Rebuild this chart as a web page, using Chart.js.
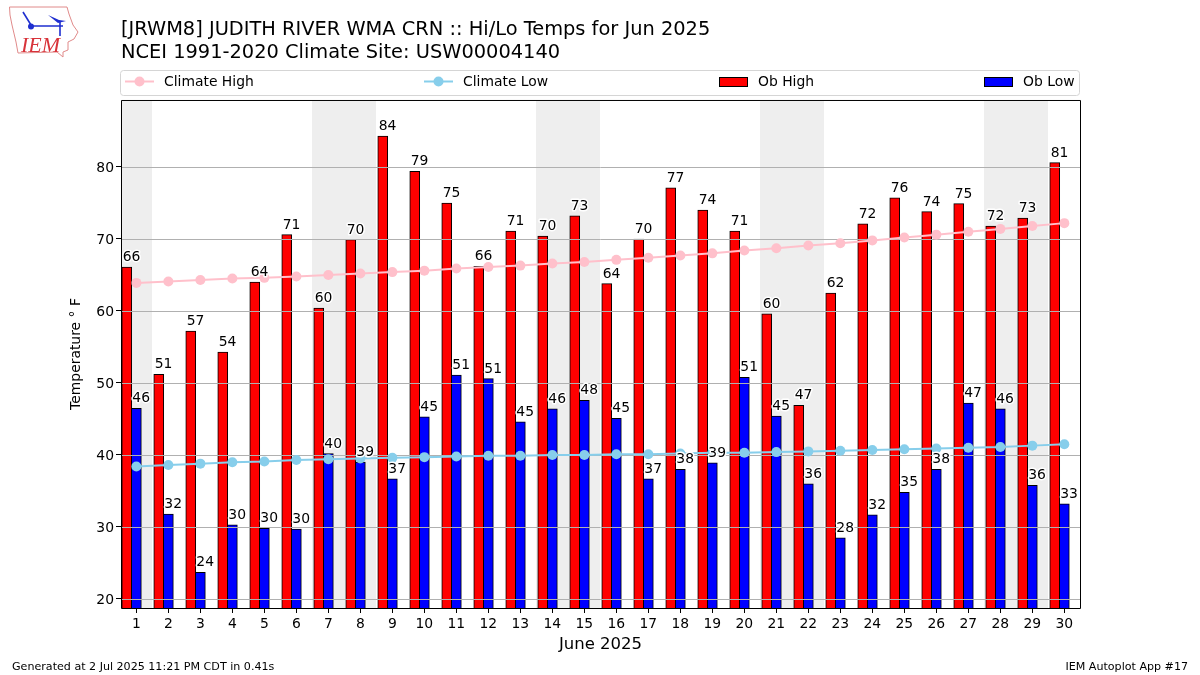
<!DOCTYPE html>
<html>
<head>
<meta charset="utf-8">
<title>Hi/Lo Temps</title>
<script src="https://cdn.jsdelivr.net/npm/chart.js@4"></script>
<style>
html, body { margin: 0; padding: 0; background: #fff; }
#wrap { position: relative; width: 1200px; height: 675px; overflow: hidden; }
#logo { position: absolute; left: 0; top: 0; }
canvas { display: block; }
</style>
</head>
<body>
<div id="wrap">
<canvas id="tempChart" width="1200" height="675"></canvas>
<svg id="logo" width="90" height="62" viewBox="0 0 90 62">
  <path d="M9.5 7 L67 7 L69 14 L73 25 L78 32 L74 39 L68 42 L68 50 L63 52 L63 57 L57 52 L18 53 L16 42 L12 25 L10 15 Z" fill="#fff" stroke="#e08a8a" stroke-width="1"/>
  <path d="M31 26 L63 26 M23 12 L31 25 M60 22 L60 36" stroke="#1f2fd0" stroke-width="1.6" fill="none"/>
  <circle cx="31" cy="26.5" r="3" fill="#1f2fd0"/>
  <path d="M48 15 L59 20 L66 21 L58 23 Z" fill="#1f2fd0"/>
  <text x="21" y="52" font-family="Liberation Serif" font-style="italic" font-size="22" fill="#d8333a">IEM</text>
</svg>
</div>
<script>
var days = [1,2,3,4,5,6,7,8,9,10,11,12,13,14,15,16,17,18,19,20,21,22,23,24,25,26,27,28,29,30];
var weekendDays = [1,7,8,14,15,21,22,28,29];
var yTicks = [20,30,40,50,60,70,80];

var obHigh = [66.1,51.2,57.2,54.3,64.0,70.6,60.4,69.9,84.3,79.4,75.0,66.2,71.1,70.4,73.2,63.8,70.0,77.1,74.0,71.1,59.6,46.9,62.49,72.1,75.7,73.8,74.9,71.8,72.9,80.6];
var obLow = [46.49,31.8,23.7,30.3,29.8,29.7,40.2,39.0,36.7,45.3,51.1,50.6,44.6,46.4,47.6,45.1,36.7,38.0,38.9,50.8,45.4,36.0,28.49,31.7,34.8,38.0,47.2,46.4,35.8,33.2];
var climateHigh = [63.9,64.1,64.3,64.5,64.6,64.8,65.0,65.2,65.4,65.6,65.9,66.1,66.3,66.6,66.8,67.1,67.4,67.7,68.0,68.4,68.7,69.1,69.4,69.8,70.2,70.6,71.0,71.4,71.8,72.2];
var climateLow = [38.4,38.6,38.8,39.0,39.1,39.3,39.4,39.5,39.6,39.7,39.8,39.9,39.9,40.0,40.0,40.1,40.1,40.2,40.3,40.3,40.4,40.5,40.6,40.7,40.8,40.9,41.0,41.1,41.3,41.5];

var titleLines = ["[JRWM8] JUDITH RIVER WMA CRN :: Hi/Lo Temps for Jun 2025", "NCEI 1991-2020 Climate Site: USW00004140"];
var footerLeft = "Generated at 2 Jul 2025 11:21 PM CDT in 0.41s";
var footerRight = "IEM Autoplot App #17";

var FONT = "'DejaVu Sans'";
var BAR_OFFSET = 0.3;  // high bar sits left of the day, low bar on the day

function pairs(xs, ys, shift) {
  return xs.map(function (d, i) { return { x: d + shift, y: ys[i] }; });
}

// weekend bands behind everything
var bandsPlugin = {
  id: 'bands',
  beforeDatasetsDraw: function (chart) {
    var c = chart.ctx, a = chart.chartArea, x = chart.scales.x;
    c.save();
    c.fillStyle = '#eeeeee';
    weekendDays.forEach(function (d) {
      var l = Math.round(Math.max(x.getPixelForValue(d - 0.5), a.left));
      var r = Math.round(Math.min(x.getPixelForValue(d + 0.5), a.right));
      c.fillRect(l, a.top, r - l, a.bottom - a.top);
    });
    c.restore();
  }
};

// grid goes over the bars but under the lines
var gridPlugin = {
  id: 'midGrid',
  afterDatasetDraw: function (chart, args) {
    if (args.index !== 3) return;
    var c = chart.ctx, a = chart.chartArea, y = chart.scales.y;
    c.save();
    c.strokeStyle = '#b0b0b0';
    c.lineWidth = 1;
    yTicks.forEach(function (t) {
      var p = Math.round(y.getPixelForValue(t)) + 0.5;
      c.beginPath();
      c.moveTo(a.left, p);
      c.lineTo(a.right, p);
      c.stroke();
    });
    c.restore();
  }
};

// rounded value labels with a white halo, frame, legend, footer
var labelsPlugin = {
  id: 'barLabels',
  afterDatasetsDraw: function (chart) {
    var c = chart.ctx, x = chart.scales.x, y = chart.scales.y, a = chart.chartArea;
    c.save();
    c.font = '13.9px ' + FONT;
    c.textAlign = 'center';
    c.textBaseline = 'alphabetic';
    c.lineJoin = 'round';
    function put(vals, shift) {
      vals.forEach(function (v, i) {
        var px = x.getPixelForValue(days[i] + shift);
        var py = y.getPixelForValue(v) - 6;
        var s = String(Math.round(v));
        c.strokeStyle = '#fff';
        c.lineWidth = 3;
        c.strokeText(s, px, py);
        c.fillStyle = '#000';
        c.fillText(s, px, py);
      });
    }
    put(obHigh, -0.15);
    put(obLow, 0.15);
    c.strokeStyle = '#000';
    c.lineWidth = 1;
    c.strokeRect(a.left + 0.5, a.top + 0.5, a.right - a.left, a.bottom - a.top);
    c.restore();
  },
  afterDraw: function (chart) {
    var c = chart.ctx, ds = chart.data.datasets;
    c.save();
    // legend box
    c.fillStyle = '#fff';
    c.strokeStyle = '#d5d5d5';
    c.lineWidth = 1;
    c.beginPath();
    c.roundRect(120.5, 70.5, 959, 25, 3);
    c.fill();
    c.stroke();
    var items = [
      { ds: ds[0], hx: 125, tx: 164 },
      { ds: ds[1], hx: 424, tx: 463 },
      { ds: ds[2], hx: 719, tx: 758 },
      { ds: ds[3], hx: 984, tx: 1023 }
    ];
    c.font = '13.9px ' + FONT;
    c.textBaseline = 'middle';
    c.textAlign = 'left';
    items.forEach(function (it) {
      if (it.ds.type === 'line') {
        c.strokeStyle = it.ds.borderColor;
        c.lineWidth = 2;
        c.beginPath();
        c.moveTo(it.hx, 81.5);
        c.lineTo(it.hx + 29, 81.5);
        c.stroke();
        c.fillStyle = it.ds.pointBackgroundColor;
        c.beginPath();
        c.arc(it.hx + 14.5, 81.5, 5, 0, Math.PI * 2);
        c.fill();
      } else {
        c.fillStyle = it.ds.backgroundColor;
        c.strokeStyle = '#000';
        c.lineWidth = 1;
        c.fillRect(it.hx, 77, 29, 9.5);
        c.strokeRect(it.hx + 0.5, 77.5, 28, 9);
      }
      c.fillStyle = '#000';
      c.fillText(it.ds.label, it.tx, 82.5);
    });
    // footer
    c.font = '11.1px ' + FONT;
    c.fillStyle = '#000';
    c.textBaseline = 'alphabetic';
    c.textAlign = 'left';
    c.fillText(footerLeft, 12, 670);
    c.textAlign = 'right';
    c.fillText(footerRight, 1188, 670);
    c.restore();
  }
};

new Chart(document.getElementById('tempChart').getContext('2d'), {
  type: 'bar',
  data: {
    datasets: [
      { type: 'line', label: 'Climate High', data: pairs(days, climateHigh, 0), order: 1,
        borderColor: 'pink', backgroundColor: 'pink', pointBackgroundColor: 'pink', pointBorderWidth: 0,
        borderWidth: 2, pointRadius: 5, tension: 0 },
      { type: 'line', label: 'Climate Low', data: pairs(days, climateLow, 0), order: 0,
        borderColor: 'skyblue', backgroundColor: 'skyblue', pointBackgroundColor: 'skyblue', pointBorderWidth: 0,
        borderWidth: 2, pointRadius: 5, tension: 0 },
      { label: 'Ob High', data: pairs(days, obHigh, -BAR_OFFSET), order: 3,
        backgroundColor: '#ff0000', borderColor: '#000', borderWidth: 1, barThickness: 10, grouped: false },
      { label: 'Ob Low', data: pairs(days, obLow, 0), order: 2,
        backgroundColor: '#0000ff', borderColor: '#000', borderWidth: 1, barThickness: 10, grouped: false }
    ]
  },
  plugins: [bandsPlugin, gridPlugin, labelsPlugin],
  options: {
    responsive: false,
    animation: false,
    devicePixelRatio: 1,
    layout: { autoPadding: false, padding: { left: 0, right: 120, top: 0, bottom: 0 } },
    plugins: {
      legend: { display: false },
      tooltip: { enabled: false },
      title: {
        display: true,
        text: titleLines,
        align: 'start',
        fullSize: false,
        color: '#000',
        font: { family: FONT, size: 19.4, weight: 'normal', lineHeight: 1.17 },
        padding: { top: 19, bottom: 35.6 }
      }
    },
    scales: {
      x: {
        type: 'linear',
        offset: false,
        min: 0.52,
        max: 30.49,
        afterBuildTicks: function (s) { s.ticks = days.map(function (d) { return { value: d }; }); },
        afterFit: function (s) { s.height = 67; },
        grid: { offset: false, drawOnChartArea: false, drawTicks: true, tickLength: 5, tickColor: '#000', color: '#000' },
        border: { display: false },
        ticks: { color: '#000', font: { family: FONT, size: 13.9 }, autoSkip: false, maxRotation: 0, minRotation: 0, padding: 3 },
        title: { display: true, text: 'June 2025', color: '#000', font: { family: FONT, size: 16.5 }, padding: { top: 0, bottom: 20 } }
      },
      y: {
        type: 'linear',
        min: 18.75,
        max: 89.3,
        afterBuildTicks: function (s) { s.ticks = yTicks.map(function (t) { return { value: t }; }); },
        afterFit: function (s) { s.width = 121; },
        grid: { drawOnChartArea: false, drawTicks: true, tickLength: 5, tickColor: '#000', color: '#000' },
        border: { display: false },
        ticks: { color: '#000', font: { family: FONT, size: 13.9 }, autoSkip: false, padding: 2, labelOffset: 1 },
        title: { display: true, text: 'Temperature \u00b0 F', color: '#000', font: { family: FONT, size: 13.9 }, padding: { top: 68, bottom: 0 } }
      }
    }
  }
});
</script>
</body>
</html>
